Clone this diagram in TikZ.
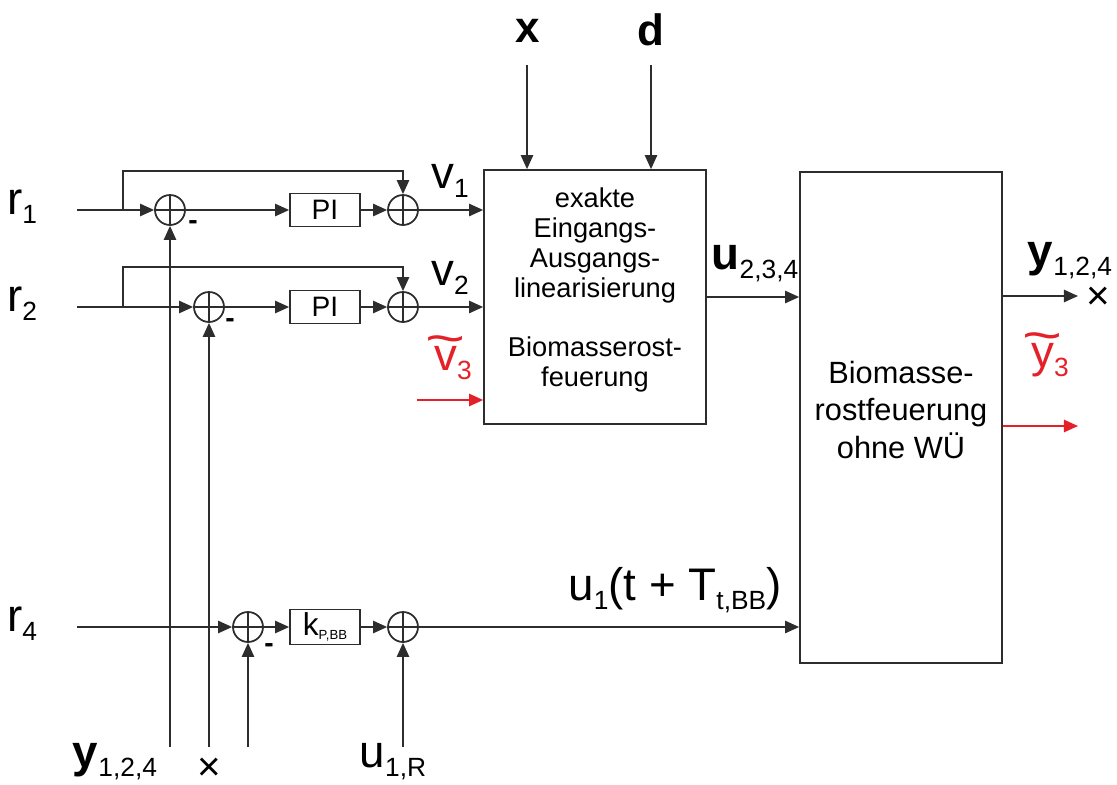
\documentclass[tikz,border=0pt]{standalone}
\usepackage{fontspec}
\setmainfont{Liberation Sans}
\usepackage{graphicx}
\usetikzlibrary{positioning, arrows.meta}
\definecolor{LineGray}{RGB}{45,45,45}
\definecolor{SigRed}{RGB}{228,32,40}
\newcommand{\sub}[1]{\raisebox{-5pt}{\fontsize{15}{17}\selectfont #1}}
\newcommand{\tld}[1]{\ooalign{#1\cr\hidewidth\raisebox{0.34em}{\scalebox{1.5}[1.1]{\char"7E}}\hidewidth\cr}}
\tikzset{
  conn/.style={draw=LineGray, line width=1pt, -{Triangle[length=8pt,width=7pt]}},
  sumnode/.style={circle, draw=LineGray, line width=1pt, minimum size=0.6cm, inner sep=0pt,
    path picture={\draw[LineGray, line width=1pt]
      (path picture bounding box.north) -- (path picture bounding box.south)
      (path picture bounding box.west) -- (path picture bounding box.east);}},
  ctrlbox/.style={draw=LineGray, line width=1pt, minimum width=1.4cm, minimum height=0.66cm,
    inner sep=0pt, font=\fontsize{16}{18}\selectfont},
  bigbox/.style={draw=LineGray, line width=1pt, inner sep=0pt},
  boxtext/.style={align=center, inner sep=0pt},
  biglbl/.style={inner sep=0pt, font=\fontsize{26}{30}\selectfont},
  crosslbl/.style={inner sep=0pt, font=\fontsize{23}{24}\selectfont},
  minus/.style={inner sep=0pt, font=\bfseries\fontsize{16}{18}\selectfont}
}
\begin{document}
\begin{tikzpicture}[x=0.02cm, y=-0.02cm]
    \useasboundingbox (0,0) rectangle (1117,785);

    % Blocks
    \node[bigbox, minimum width=4.44cm, minimum height=5.08cm] (lin) at (595,297) {};
    \node[bigbox, minimum width=4.04cm, minimum height=9.82cm] (plant) at (901,417.5) {};
    \node[boxtext, font=\fontsize{15.5}{17}\selectfont] (lintxt) at (595,290)
      {exakte\\Eingangs-\\Ausgangs-\\linearisierung\\[17pt]Biomasserost-\\feuerung};
    \node[boxtext, font=\fontsize{17.5}{21.5}\selectfont] (planttxt) at (901,410)
      {Biomasse-\\rostfeuerung\\ohne WÜ};

    % Summing points
    \node[sumnode] (s1) at (170,210) {};
    \node[sumnode] (s2) at (403,210) {};
    \node[sumnode] (s3) at (209,307) {};
    \node[sumnode] (s4) at (403,307) {};
    \node[sumnode] (s5) at (248,627) {};
    \node[sumnode] (s6) at (403,627) {};

    % Controllers
    \node[ctrlbox] (pi1) at (325,210) {PI};
    \node[ctrlbox] (pi2) at (325,307) {PI};
    \node[ctrlbox, minimum height=0.7cm] (kp) at (325,627)
      {\fontsize{18}{20}\selectfont k\raisebox{-2pt}{\fontsize{7.5}{9}\selectfont P,BB}};

    % Signal ends
    \coordinate (r1in) at (77,210);
    \coordinate (r2in) at (77,307);
    \coordinate (r4in) at (77,627);
    \coordinate (ff1) at (123,210);
    \coordinate (ff1top) at (123,171);
    \coordinate (ff2) at (123,307);
    \coordinate (ff2top) at (123,267);
    \coordinate (yb1) at (170,747);
    \coordinate (yb2) at (209,747);
    \coordinate (yb3) at (248,747);
    \coordinate (ub) at (403,747);
    \coordinate (xin) at (527,65);
    \coordinate (din) at (651,65);
    \coordinate (v3in) at (417,400);
    \coordinate (yout) at (1078,296);
    \coordinate (y3out) at (1078,426);

    % Row 1
    \draw[conn] (r1in) -- (s1);
    \draw[conn] (s1) -- (pi1);
    \draw[conn] (pi1) -- (s2);
    \draw[conn] (s2) -- (s2 -| lin.west);
    \draw[conn] (ff1) -- (ff1top) -| (s2);

    % Row 2
    \draw[conn] (r2in) -- (s3);
    \draw[conn] (s3) -- (pi2);
    \draw[conn] (pi2) -- (s4);
    \draw[conn] (s4) -- (s4 -| lin.west);
    \draw[conn] (ff2) -- (ff2top) -| (s4);

    % Row 4
    \draw[conn] (r4in) -- (s5);
    \draw[conn] (s5) -- (kp);
    \draw[conn] (kp) -- (s6);
    \draw[conn] (s6) -- (s6 -| plant.west);

    % Feedback and inputs from below
    \draw[conn] (yb1) -- (s1);
    \draw[conn] (yb2) -- (s3);
    \draw[conn] (yb3) -- (s5);
    \draw[conn] (ub) -- (s6);

    % Top inputs, block links, outputs
    \draw[conn] (xin) -- (xin |- lin.north);
    \draw[conn] (din) -- (din |- lin.north);
    \draw[conn] (lin.east) -- (lin.east -| plant.west);
    \draw[conn] (yout -| plant.east) -- (yout);
    \draw[conn, draw=SigRed] (v3in) -- (v3in -| lin.west);
    \draw[conn, draw=SigRed] (y3out -| plant.east) -- (y3out);

    % Labels
    \node[biglbl] (r1) at (22,207) {r\sub{1}};
    \node[biglbl] (r2) at (22,304) {r\sub{2}};
    \node[biglbl] (r4) at (22,624) {r\sub{4}};
    \node[biglbl] (v1) at (450,181) {v\sub{1}};
    \node[biglbl] (v2) at (450,278) {v\sub{2}};
    \node[biglbl, text=SigRed] (v3) at (453,363) {\tld{v}\sub{3}};
    \node[inner sep=0pt, font=\bfseries\fontsize{25}{27}\selectfont] (xlbl) at (528,31) {x};
    \node[inner sep=0pt, font=\bfseries\fontsize{25}{27}\selectfont] (dlbl) at (651,30) {d};
    \node[biglbl] (u234) at (755,264) {\textbf{u}{\fontsize{13}{15}\selectfont\sub{2,3,4}}};
    \node[biglbl] (y124) at (1070,261) {\textbf{y}\sub{1,2,4}};
    \node[crosslbl] (ycross) at (1098,298) {×};
    \node[biglbl, text=SigRed] (y3) at (1050,360) {\tld{y}\sub{3}};
    \node[biglbl] (u1t) at (675,590) {u\sub{1}(t + T\sub{t,BB})};
    \node[biglbl] (ybot) at (115,762) {\textbf{y}\sub{1,2,4}};
    \node[crosslbl] (xbot) at (209,769) {×};
    \node[biglbl] (u1R) at (393,762) {u\sub{1,R}};

    % Minus signs
    \node[minus] (m1) at (193,225) {-};
    \node[minus] (m2) at (230,323) {-};
    \node[minus] (m3) at (269,648) {-};
\end{tikzpicture}
\end{document}
